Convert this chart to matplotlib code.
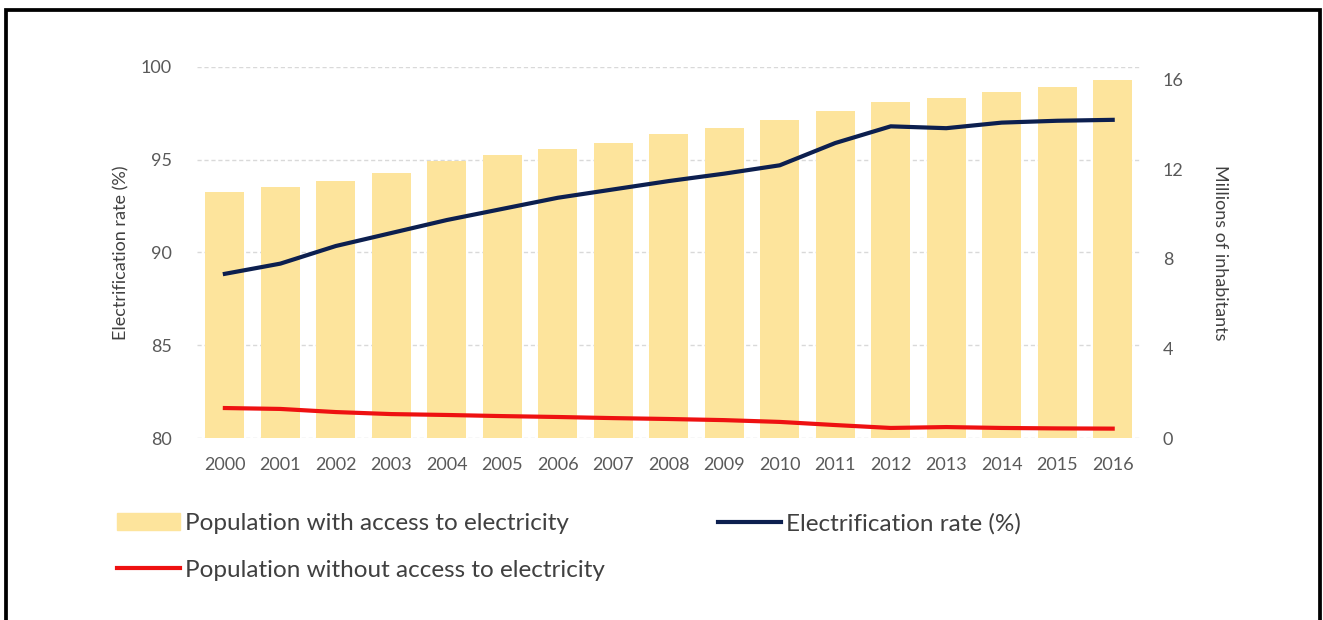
import matplotlib.pyplot as plt
from matplotlib.patches import Patch, Rectangle
from matplotlib.lines import Line2D

plt.rcParams['font.family'] = ['Lato', 'DejaVu Sans']

# data
years = [str(y) for y in range(2000, 2017)]
pop_with = [11.0, 11.2, 11.5, 11.85, 12.4, 12.65, 12.9, 13.2, 13.6, 13.85,
            14.2, 14.6, 15.0, 15.2, 15.45, 15.7, 16.0]
elec_rate = [88.85, 89.4, 90.35, 91.05, 91.75, 92.35, 92.95, 93.4, 93.85, 94.25,
             94.7, 95.9, 96.8, 96.7, 97.0, 97.1, 97.15]
pop_without = [1.34, 1.3, 1.16, 1.07, 1.03, 0.98, 0.94, 0.89, 0.85, 0.8,
               0.72, 0.58, 0.45, 0.49, 0.45, 0.43, 0.42]

grey = '#595959'
bar_col = '#fde49c'
navy = '#0c1f4f'
red = '#ee1111'

fig = plt.figure(figsize=(13.23, 6.2), dpi=100)
ax = fig.add_axes([0.149, 0.2935, 0.713, 0.5985])
x = list(range(len(years)))

# left axis: gridlines + ticks
ax.set_ylim(80, 100)
ax.set_yticks([80, 85, 90, 95, 100])
ax.set_xlim(-0.5, len(years) - 0.5)
ax.grid(axis='y', color='#d9d9d9', linestyle=(0, (3, 2)), linewidth=1)
ax.set_axisbelow(True)
ax.set_ylabel('Electrification rate (%)', color='#404040', fontsize=13, labelpad=8)
ax.set_xticks(x)
ax.set_xticklabels(years)
ax.tick_params(axis='both', length=0, colors=grey, labelsize=13)
ax.tick_params(axis='x', pad=14)
ax.tick_params(axis='y', pad=18)
for s in ax.spines.values():
    s.set_visible(False)

# right axis: bars and red line
ax2 = ax.twinx()
ax2.bar(x, pop_with, width=0.7, color=bar_col)
ax2.plot(x, pop_without, color=red, linewidth=3)
ax2.set_ylim(0, 16.58)
ax2.set_yticks([0, 4, 8, 12, 16])
ax2.tick_params(axis='y', length=0, colors=grey, labelsize=13, pad=16)
ax2.set_ylabel('Millions of inhabitants', color='#404040', fontsize=13,
               rotation=270, labelpad=32)
for s in ax2.spines.values():
    s.set_visible(False)

# top layer: electrification rate on the left scale
ax3 = ax.twinx()
ax3.plot(x, elec_rate, color=navy, linewidth=3)
ax3.set_ylim(80, 100)
ax3.set_yticks([])
ax3.patch.set_visible(False)
for s in ax3.spines.values():
    s.set_visible(False)

leg_kw = dict(frameon=False, fontsize=17.5, labelcolor='#404040',
              handlelength=2.6, handletextpad=0.2, borderpad=0, borderaxespad=0,
              labelspacing=1.05)
fig.legend(handles=[Patch(color=bar_col, label='Population with access to electricity'),
                    Line2D([], [], color=red, lw=3, label='Population without access to electricity')],
           loc='upper left', bbox_to_anchor=(117 / 1323, 1 - 513 / 620), **leg_kw)
fig.legend(handles=[Line2D([], [], color=navy, lw=3, label='Electrification rate (%)')],
           loc='upper left', bbox_to_anchor=(718 / 1323, 1 - 513 / 620), **leg_kw)

# black frame around the figure
fig.add_artist(Rectangle((5.5 / 1323, -0.1), (1320 - 5.5) / 1323, 1.1 - 10.5 / 620,
                         transform=fig.transFigure, fill=False, edgecolor='black',
                         linewidth=2.7))

fig.savefig('out.png', dpi=100)
